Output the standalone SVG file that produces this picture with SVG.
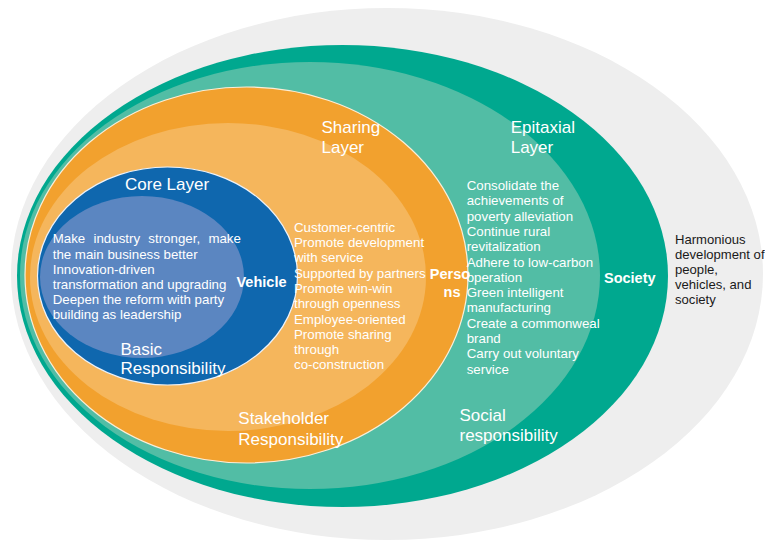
<svg xmlns="http://www.w3.org/2000/svg" width="765" height="541" viewBox="0 0 765 541">
  <style>
    text { font-family: "Liberation Sans", Arial, "DejaVu Sans", sans-serif; fill: #ffffff; }
    .title { font-size: 17px; }
    .body { font-size: 13.3px; }
    .key { font-size: 14.5px; font-weight: bold; }
    .dark { fill: #1a1a1a; font-size: 13.1px; }
  </style>
  <rect x="0" y="0" width="765" height="541" fill="#ffffff"/>

  <g id="harmony">
    <ellipse cx="387" cy="274" rx="376" ry="266" fill="#eeeeee"/>
    <text class="dark">
      <tspan x="675" y="243.5">Harmonious</tspan>
      <tspan x="675" y="258.5">development of</tspan>
      <tspan x="675" y="273.5">people,</tspan>
      <tspan x="675" y="288.5">vehicles, and</tspan>
      <tspan x="675" y="303.5">society</tspan>
    </text>
  </g>

  <g id="society-layer">
    <ellipse cx="342.5" cy="276" rx="325.5" ry="231" fill="#00a88f"/>
  </g>

  <g id="epitaxial-layer">
    <ellipse cx="310" cy="275.5" rx="290" ry="213.5" fill="#52bda5"/>
  </g>

  <g id="sharing-layer">
    <ellipse cx="246.5" cy="275" rx="221.5" ry="188" fill="#f2a12e" stroke="#fbeed8" stroke-width="1.2"/>
    <ellipse cx="228" cy="277" rx="198" ry="154" fill="#f5b65c"/>
  </g>

  <g id="core-layer">
    <ellipse cx="167.5" cy="276" rx="130" ry="109" fill="#0f67ae" stroke="#eef2f8" stroke-width="1.2"/>
    <ellipse cx="142" cy="277" rx="102" ry="81" fill="#5b86c1"/>
  </g>

  <g id="core-text">
    <text class="title" x="125" y="190">Core Layer</text>
    <text class="body">
      <tspan x="52.7" y="243.3" word-spacing="4.6">Make industry stronger, make</tspan>
      <tspan x="52.7" y="258.5">the main business better</tspan>
      <tspan x="52.7" y="273.7">Innovation-driven</tspan>
      <tspan x="52.7" y="288.9">transformation and upgrading</tspan>
      <tspan x="52.7" y="304.1">Deepen the reform with party</tspan>
      <tspan x="52.7" y="319.3">building as leadership</tspan>
    </text>
    <text class="key" x="236.5" y="287">Vehicle</text>
    <text class="title">
      <tspan x="120.5" y="355">Basic</tspan>
      <tspan x="120.5" y="374">Responsibility</tspan>
    </text>
  </g>

  <g id="sharing-text">
    <text class="title">
      <tspan x="321.5" y="133.3">Sharing</tspan>
      <tspan x="321.5" y="153.3">Layer</tspan>
    </text>
    <text class="body">
      <tspan x="294" y="231.7">Customer-centric</tspan>
      <tspan x="294" y="247">Promote development</tspan>
      <tspan x="294" y="262.3">with service</tspan>
      <tspan x="294" y="277.6">Supported by partners</tspan>
      <tspan x="294" y="292.9">Promote win-win</tspan>
      <tspan x="294" y="308.2">through openness</tspan>
      <tspan x="294" y="323.5">Employee-oriented</tspan>
      <tspan x="294" y="338.8">Promote sharing</tspan>
      <tspan x="294" y="354.1">through</tspan>
      <tspan x="294" y="369.4">co-construction</tspan>
    </text>
    <text class="key" text-anchor="middle">
      <tspan x="452" y="279">Perso</tspan>
      <tspan x="452" y="297">ns</tspan>
    </text>
    <text class="title">
      <tspan x="238.3" y="424">Stakeholder</tspan>
      <tspan x="238.3" y="444.5">Responsibility</tspan>
    </text>
  </g>

  <g id="epitaxial-text">
    <text class="title">
      <tspan x="510.7" y="133.3">Epitaxial</tspan>
      <tspan x="510.7" y="153.3">Layer</tspan>
    </text>
    <text class="body">
      <tspan x="466.7" y="190">Consolidate the</tspan>
      <tspan x="466.7" y="205.3">achievements of</tspan>
      <tspan x="466.7" y="220.6">poverty alleviation</tspan>
      <tspan x="466.7" y="235.9">Continue rural</tspan>
      <tspan x="466.7" y="251.2">revitalization</tspan>
      <tspan x="466.7" y="266.5">Adhere to low-carbon</tspan>
      <tspan x="466.7" y="281.8">operation</tspan>
      <tspan x="466.7" y="297.1">Green intelligent</tspan>
      <tspan x="466.7" y="312.4">manufacturing</tspan>
      <tspan x="466.7" y="327.7">Create a commonweal</tspan>
      <tspan x="466.7" y="343">brand</tspan>
      <tspan x="466.7" y="358.3">Carry out voluntary</tspan>
      <tspan x="466.7" y="373.6">service</tspan>
    </text>
    <text class="key" x="604" y="283.3">Society</text>
    <text class="title">
      <tspan x="459.5" y="420.5">Social</tspan>
      <tspan x="459.5" y="440.5">responsibility</tspan>
    </text>
  </g>

  <g id="connectors"/>
</svg>
